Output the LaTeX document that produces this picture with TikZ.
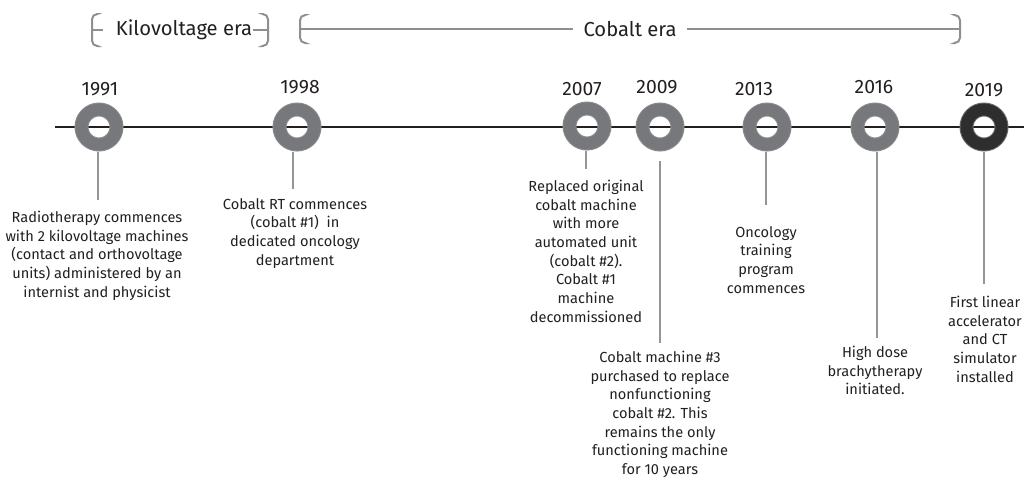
\documentclass[tikz,border=0pt]{standalone}
\usepackage{fontspec}
\setmainfont{Fira Sans}
\usetikzlibrary{positioning}

\definecolor{inkdark}{HTML}{231F20}
\definecolor{ringgray}{HTML}{77787B}
\definecolor{ringedge}{HTML}{8C8D90}
\definecolor{stemgray}{HTML}{939598}
\definecolor{eragray}{HTML}{8E8F92}
\definecolor{ringdark}{HTML}{2E2E2F}
\definecolor{darkedge}{HTML}{6D6E71}

\tikzset{
  ring/.style={circle,minimum size=0.7cm,inner sep=0pt,outer sep=0.14cm,
    draw=ringedge,line width=0.02cm,double=ringgray,double distance=0.24cm},
  lastring/.style={ring,draw=darkedge,double=ringdark},
  year/.style={inner sep=0pt,text=inkdark,font=\fontsize{11}{13}\selectfont},
  event/.style={anchor=north,inner sep=0pt,align=center,text=inkdark,
    font=\fontsize{8.3}{10.6}\selectfont},
  stem/.style={stemgray,line width=0.04cm},
  timeline/.style={inkdark,line width=0.04cm},
  era/.style={eragray,line width=0.04cm},
  eralabel/.style={inner sep=0pt,text=inkdark,font=\fontsize{11.5}{14}\selectfont}
}

\begin{document}
\begin{tikzpicture}[x=0.02cm,y=-0.02cm]
  \useasboundingbox (0,0) rectangle (1024,478);

  % era brackets
  \node[eralabel] (kv) at (184,30) {Kilovoltage era};
  \draw[era,rounded corners=3] (97,14) -- (92,14) -- (92,46) -- (97,46);
  \draw[era] (92,30) -- (103,30);
  \draw[era] (kv.east) -- (268,30);
  \draw[era,rounded corners=3] (263,14) -- (268,14) -- (268,46) -- (263,46);

  \node[eralabel] (co) at (630,29) {Cobalt era};
  \draw[era,rounded corners=3] (305,15) -- (300,15) -- (300,43) -- (305,43);
  \draw[era] (300,29) -- ([xshift=-0.2cm]co.west);
  \draw[era] ([xshift=0.2cm]co.east) -- (960,29);
  \draw[era,rounded corners=3] (955,15) -- (960,15) -- (960,43) -- (955,43);

  % timeline
  \coordinate (tstart) at (55,127);
  \coordinate (tend) at (1024,127);
  \draw[timeline] (tstart) -- (tend);

  % rings
  \node[ring] (r1991) at (99,127) {};
  \node[ring] (r1998) at (297,127) {};
  \node[ring] (r2007) at (587,126) {};
  \node[ring] (r2009) at (660,127) {};
  \node[ring] (r2013) at (767,127) {};
  \node[ring] (r2016) at (875,127) {};
  \node[lastring] (r2019) at (984,127) {};

  % years
  \node[year] (y1991) at (100,89) {1991};
  \node[year] (y1998) at (300,87) {1998};
  \node[year] (y2007) at (582,89) {2007};
  \node[year] (y2009) at (657,87) {2009};
  \node[year] (y2013) at (754,89) {2013};
  \node[year] (y2016) at (874,87) {2016};
  \node[year] (y2019) at (984,90) {2019};

  % events
  \node[event] (e1991) at (97,211) {Radiotherapy commences\\with 2 kilovoltage machines\\(contact and orthovoltage\\units) administered by an\\internist and physicist};
  \node[event] (e1998) at (295,198) {Cobalt RT commences\\(cobalt \#1)\ \ in\\dedicated oncology\\department};
  \node[event] (e2007) at (586,180) {Replaced original\\cobalt machine\\with more\\automated unit\\(cobalt \#2).\\Cobalt \#1\\machine\\decommissioned};
  \node[event] (e2009) at (660,351) {Cobalt machine \#3\\purchased to replace\\nonfunctioning\\cobalt \#2. This\\remains the only\\functioning machine\\for 10 years};
  \node[event] (e2013) at (766,226) {Oncology\\training\\program\\commences};
  \node[event] (e2016) at (875,346) {High dose\\brachytherapy\\initiated.};
  \node[event] (e2019) at (985,296) {First linear\\accelerator\\and CT\\simulator\\installed};

  % stems
  \coordinate (s1991) at (98,200);
  \coordinate (s1998) at (293,189);
  \coordinate (s2007) at (586,169);
  \coordinate (s2009) at (660,343);
  \coordinate (s2013) at (766,205);
  \coordinate (s2016) at (877,338);
  \coordinate (s2019) at (984,284);
  \draw[stem] (r1991.south -| s1991) -- (s1991);
  \draw[stem] (r1998.south -| s1998) -- (s1998);
  \draw[stem] (r2007.south -| s2007) -- (s2007);
  \draw[stem,shorten <=0.18cm] (r2009.south -| s2009) -- (s2009);
  \draw[stem] (r2013.south -| s2013) -- (s2013);
  \draw[stem] (r2016.south -| s2016) -- (s2016);
  \draw[stem] (r2019.south -| s2019) -- (s2019);
\end{tikzpicture}
\end{document}
